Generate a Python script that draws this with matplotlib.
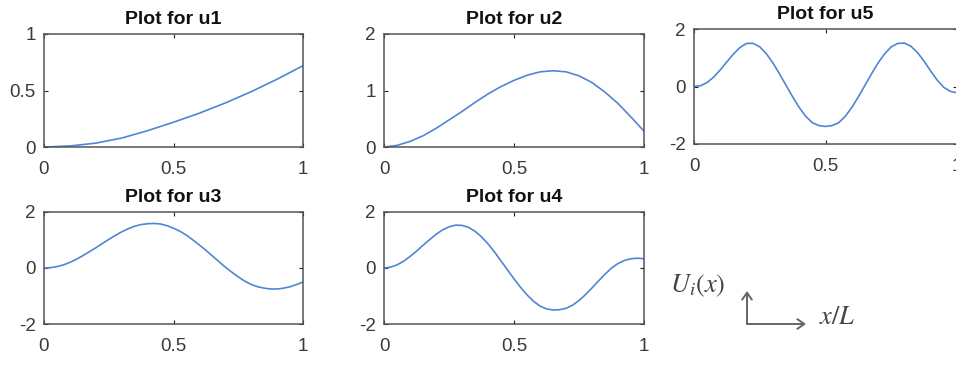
import numpy as np
import matplotlib
matplotlib.use("Agg")
import matplotlib.pyplot as plt

plt.rcParams['font.family'] = ['Liberation Sans', 'DejaVu Sans']
plt.rcParams['mathtext.fontset'] = 'stix'

# Mode shape samples U_i(x) along the normalised beam length x/L
x_u1 = [0.0, 0.1, 0.2, 0.3, 0.4, 0.5, 0.6, 0.7, 0.8, 0.9, 1.0]
u1 = [0.0, 0.01, 0.035, 0.08, 0.145, 0.22, 0.30, 0.39, 0.49, 0.60, 0.72]

x_u2 = [0.0, 0.05, 0.1, 0.15, 0.2, 0.25, 0.3, 0.35, 0.4, 0.45, 0.5,
        0.55, 0.6, 0.65, 0.7, 0.75, 0.8, 0.85, 0.9, 0.95, 1.0]
u2 = [0.0, 0.03, 0.10, 0.20, 0.33, 0.48, 0.63, 0.79, 0.94, 1.07, 1.18,
      1.27, 1.33, 1.35, 1.33, 1.26, 1.14, 0.97, 0.77, 0.53, 0.28]

x_fine = [round(0.025 * k, 3) for k in range(41)]

u3 = [0.0, 0.01, 0.05, 0.11, 0.20, 0.31, 0.44, 0.58, 0.72, 0.87,
      1.02, 1.16, 1.29, 1.40, 1.49, 1.55, 1.58, 1.59, 1.57, 1.51,
      1.42, 1.31, 1.17, 1.00, 0.82, 0.63, 0.43, 0.23, 0.03, -0.15,
      -0.32, -0.47, -0.59, -0.67, -0.72, -0.75, -0.75, -0.72, -0.67, -0.59,
      -0.50]

u4 = [0.0, 0.03, 0.11, 0.24, 0.41, 0.60, 0.81, 1.01, 1.20, 1.36,
      1.47, 1.53, 1.52, 1.45, 1.31, 1.11, 0.86, 0.57, 0.25, -0.07,
      -0.39, -0.69, -0.96, -1.19, -1.36, -1.46, -1.50, -1.49, -1.44, -1.33,
      -1.16, -0.95, -0.71, -0.46, -0.22, 0.00, 0.16, 0.27, 0.33, 0.35,
      0.33]

u5 = [0.0, 0.03, 0.14, 0.33, 0.58, 0.86, 1.13, 1.36, 1.50, 1.50,
      1.38, 1.14, 0.82, 0.44, 0.04, -0.36, -0.73, -1.04, -1.26, -1.36,
      -1.39, -1.36, -1.26, -1.04, -0.73, -0.36, 0.04, 0.44, 0.82, 1.14,
      1.38, 1.50, 1.51, 1.40, 1.18, 0.88, 0.54, 0.22, -0.03, -0.17,
      -0.22]

x_ticks = [0, 0.5, 1]

panels = [
    # name, x, y, yticks, [left, bottom, width, height]
    ("u1", x_u1, u1, [0, 0.5, 1], [0.046, 0.597, 0.271, 0.310]),
    ("u2", x_u2, u2, [0, 1, 2], [0.4017, 0.597, 0.272, 0.310]),
    ("u5", x_fine, u5, [-2, 0, 2], [0.726, 0.6055, 0.275, 0.315]),
    ("u3", x_fine, u3, [-2, 0, 2], [0.046, 0.1123, 0.271, 0.307]),
    ("u4", x_fine, u4, [-2, 0, 2], [0.4017, 0.1123, 0.272, 0.307]),
]

line_color = '#4f86d4'
axis_color = '#555555'
label_color = '#3a3a3a'

fig = plt.figure(figsize=(9.56, 3.65), dpi=100)

for name, xs, ys, yt, rect in panels:
    ax = fig.add_axes(rect)
    ax.plot(xs, ys, color=line_color, lw=1.2)
    ax.set_xlim(0, 1)
    ax.set_ylim(yt[0], yt[-1])
    ax.set_xticks(x_ticks)
    ax.set_xticklabels(['0', '0.5', '1'])
    ax.set_yticks(yt)
    ax.set_yticklabels(['%g' % v for v in yt])
    ax.tick_params(direction='in', top=True, right=True, length=3,
                   width=0.8, color='#222222', labelsize=13.5,
                   labelcolor=label_color)
    ax.tick_params(axis='x', pad=10)
    ax.tick_params(axis='y', pad=6)
    for sp in ax.spines.values():
        sp.set_color(axis_color)
        sp.set_linewidth(1.1)
    ax.set_title("Plot for " + name, fontsize=14, fontweight='bold',
                 color='#111111', pad=7)

# Axis legend sketch: U_i(x) versus x/L
fig.text(670 / 956, 1 - 286 / 365, r'$U_i(x)$', fontsize=19,
         color='#444444', va='center', ha='left')
fig.text(819 / 956, 1 - 317 / 365, r'$x/L$', fontsize=19,
         color='#444444', va='center', ha='left')
origin = (747 / 956, 1 - 324 / 365)
fig.add_artist(matplotlib.patches.FancyArrowPatch(
    origin, (747 / 956, 1 - 291 / 365), transform=fig.transFigure,
    arrowstyle='->,head_length=5,head_width=3.5', color='#666666', lw=1.4,
    shrinkA=0, shrinkB=0))
fig.add_artist(matplotlib.patches.FancyArrowPatch(
    origin, (806 / 956, 1 - 324 / 365), transform=fig.transFigure,
    arrowstyle='->,head_length=5,head_width=3.5', color='#666666', lw=1.4,
    shrinkA=0, shrinkB=0))

fig.savefig('out.png', dpi=100)
